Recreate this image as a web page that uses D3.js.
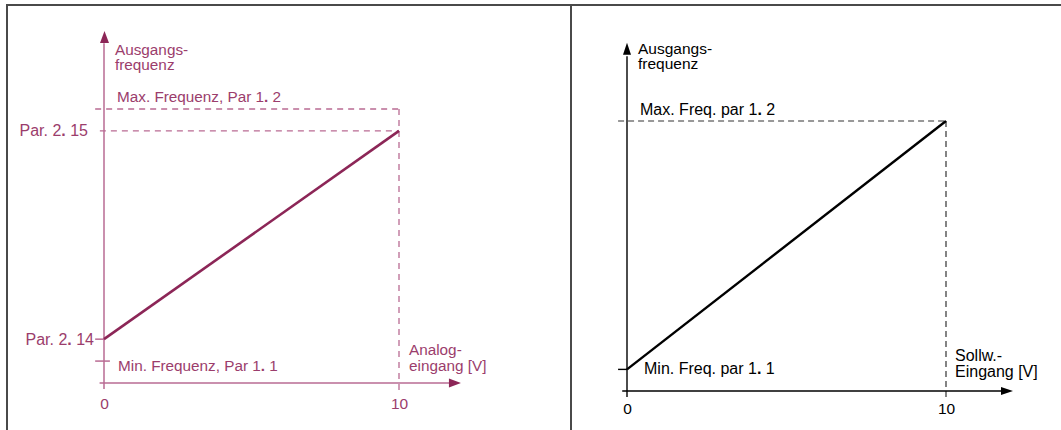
<!DOCTYPE html>
<html>
<head>
<meta charset="utf-8">
<script src="https://cdn.jsdelivr.net/npm/d3@7"></script>
<style>
  html, body { margin: 0; padding: 0; background: #ffffff; }
  svg { display: block; }
  text { font-family: "Liberation Sans", Arial, Helvetica, sans-serif; }
</style>
</head>
<body>
<svg id="chart" width="1061" height="430"></svg>
<script>
// Input voltage range and axis ticks (both panels)
const inputVolts = [0, 10];
const xTickValues = [0, 10];

// Left panel: analog input, output frequency in % of maximum frequency
const analogOutput = [16, 92];        // Par. 2.14 at 0 V, Par. 2.15 at 10 V
const analogLimits = [8, 100];        // Min. Frequenz (Par 1.1), Max. Frequenz (Par 1.2)
const analogParLabels = [["Par. 2", ". ", "14"], ["Par. 2", ". ", "15"]];

// Right panel: setpoint input, output frequency in % of maximum frequency
const setpointOutput = [8, 100];      // Min. Freq. at 0 V, Max. Freq. at 10 V
const setpointLimits = [8, 100];

const svg = d3.select("#chart");

// Frame: top rule, left rule and the divider between the panels
const frame = svg.append("g").attr("stroke", "#4a4a4a").attr("stroke-width", 2);
frame.append("line").attr("x1", 6).attr("x2", 1061).attr("y1", 5).attr("y2", 5);
frame.append("line").attr("x1", 7).attr("x2", 7).attr("y1", 5).attr("y2", 430);
frame.append("line").attr("x1", 571).attr("x2", 571).attr("y1", 5).attr("y2", 430);

// Writes a label whose separating dot is set in bold, e.g. "Par 1. 2"
function richText(g, parts, attrs) {
  const t = g.append("text");
  Object.entries(attrs).forEach(([k, v]) => t.attr(k, v));
  parts.forEach((p, i) => {
    const s = t.append("tspan").text(p);
    if (i === 1) s.attr("font-weight", "bold");
  });
  return t;
}

function arrowUp(g, x, yTip, w, h, color) {
  g.append("path")
    .attr("d", `M${x},${yTip} L${x - w / 2},${yTip + h} L${x + w / 2},${yTip + h} Z`)
    .attr("fill", color);
}
function arrowRight(g, xTip, y, w, h, color) {
  g.append("path")
    .attr("d", `M${xTip},${y} L${xTip - h},${y - w / 2} L${xTip - h},${y + w / 2} Z`)
    .attr("fill", color);
}

// ---------------- Left panel (analog input) ----------------
{
  const axisColor = "#b96b93";
  const lineColor = "#8c2657";
  const textColor = "#9b3d6c";
  const x = d3.scaleLinear().domain(inputVolts).range([104, 399]);
  const y = d3.scaleLinear().domain([0, 100]).range([383, 109]);
  const g = svg.append("g").attr("fill", textColor);

  // guides for max. frequency, Par. 2.15 and the 10 V input
  const dash = g.append("g").attr("stroke", axisColor).attr("stroke-width", 1.3)
    .attr("stroke-dasharray", "6,5").attr("fill", "none");
  dash.append("line").attr("x1", x(-0.3)).attr("x2", x(10))
    .attr("y1", y(analogLimits[1])).attr("y2", y(analogLimits[1]));
  dash.append("line").attr("x1", x(-0.14)).attr("x2", x(10))
    .attr("y1", y(analogOutput[1])).attr("y2", y(analogOutput[1]));
  dash.append("line").attr("x1", x(10)).attr("x2", x(10))
    .attr("y1", y(analogLimits[1])).attr("y2", y(-3.7));

  // axes
  const ax = g.append("g").attr("stroke", axisColor).attr("stroke-width", 1.5);
  ax.append("line").attr("x1", x(0)).attr("x2", x(0)).attr("y1", y(-2.2)).attr("y2", y(124));
  ax.append("line").attr("x1", x(-0.15)).attr("x2", x(11.8)).attr("y1", y(0)).attr("y2", y(0));
  arrowUp(g, x(0) + 0.5, y(128.5), 9, 12, lineColor);
  arrowRight(g, x(12.1), y(0), 9, 12, lineColor);

  // ticks at Par. 2.14 and at min. frequency
  ax.append("line").attr("x1", x(-0.3)).attr("x2", x(0))
    .attr("y1", y(analogOutput[0])).attr("y2", y(analogOutput[0]));
  ax.append("line").attr("x1", x(-0.3)).attr("x2", x(0.2))
    .attr("y1", y(analogLimits[0])).attr("y2", y(analogLimits[0]));

  // characteristic
  g.append("path")
    .datum(inputVolts.map((v, i) => [v, analogOutput[i]]))
    .attr("fill", "none").attr("stroke", lineColor).attr("stroke-width", 2.6)
    .attr("d", d3.line().x(d => x(d[0])).y(d => y(d[1])));

  // x tick labels
  const xa = g.append("g").attr("transform", `translate(0,${y(0)})`)
    .call(d3.axisBottom(x).tickValues(xTickValues).tickSize(0).tickPadding(15).tickFormat(d3.format("d")));
  xa.select(".domain").remove();
  xa.selectAll("text").attr("fill", textColor).attr("font-size", 15.5)
    .attr("font-family", "Liberation Sans, Arial, sans-serif");

  // labels
  const fs = 15.3;
  g.append("text").attr("x", 115).attr("y", 54.5).attr("font-size", fs).text("Ausgangs-");
  g.append("text").attr("x", 115).attr("y", 69.5).attr("font-size", fs).text("frequenz");
  richText(g, ["Max. Frequenz, Par 1", ". ", "2"],
    { x: 117, y: y(analogLimits[1]) - 7, "font-size": fs });
  richText(g, ["Min. Frequenz, Par 1", ". ", "1"],
    { x: 118, y: y(analogLimits[0]) + 9.5, "font-size": fs });
  richText(g, analogParLabels[1],
    { x: 88, y: y(analogOutput[1]) + 5.5, "font-size": 16, "text-anchor": "end" });
  richText(g, analogParLabels[0],
    { x: 94, y: y(analogOutput[0]) + 5.5, "font-size": 16, "text-anchor": "end" });
  g.append("text").attr("x", 409).attr("y", 355).attr("font-size", fs).text("Analog-");
  g.append("text").attr("x", 409).attr("y", 371).attr("font-size", fs).text("eingang [V]");
}

// ---------------- Right panel (setpoint input) ----------------
{
  const color = "#000000";
  const dashColor = "#333333";
  const x = d3.scaleLinear().domain(inputVolts).range([627, 946]);
  const y = d3.scaleLinear().domain([0, 100]).range([391, 121]);
  const g = svg.append("g").attr("fill", color);

  const dash = g.append("g").attr("stroke", dashColor).attr("stroke-width", 1.2)
    .attr("stroke-dasharray", "6,4").attr("fill", "none");
  dash.append("line").attr("x1", x(-0.28)).attr("x2", x(10))
    .attr("y1", y(setpointLimits[1])).attr("y2", y(setpointLimits[1]));
  dash.append("line").attr("x1", x(10)).attr("x2", x(10))
    .attr("y1", y(setpointLimits[1])).attr("y2", y(-3.5));

  const ax = g.append("g").attr("stroke", color).attr("stroke-width", 1.4);
  ax.append("line").attr("x1", x(0)).attr("x2", x(0)).attr("y1", y(-2.2)).attr("y2", y(124));
  ax.append("line").attr("x1", x(-0.15)).attr("x2", x(11.8)).attr("y1", y(0)).attr("y2", y(0));
  arrowUp(g, x(0), y(129), 8, 12, color);
  arrowRight(g, x(12.1), y(0), 8, 12, color);
  ax.append("line").attr("x1", x(-0.28)).attr("x2", x(0))
    .attr("y1", y(setpointLimits[0])).attr("y2", y(setpointLimits[0]));

  g.append("path")
    .datum(inputVolts.map((v, i) => [v, setpointOutput[i]]))
    .attr("fill", "none").attr("stroke", color).attr("stroke-width", 2.4)
    .attr("d", d3.line().x(d => x(d[0])).y(d => y(d[1])));

  const xa = g.append("g").attr("transform", `translate(0,${y(0)})`)
    .call(d3.axisBottom(x).tickValues(xTickValues).tickSize(0).tickPadding(12).tickFormat(d3.format("d")));
  xa.select(".domain").remove();
  xa.selectAll("text").attr("fill", color).attr("font-size", 15.5)
    .attr("font-family", "Liberation Sans, Arial, sans-serif");

  const fs = 16;
  g.append("text").attr("x", 638).attr("y", 54).attr("font-size", 15.5).text("Ausgangs-");
  g.append("text").attr("x", 638).attr("y", 69).attr("font-size", 15.5).text("frequenz");
  richText(g, ["Max. Freq. par 1", ". ", "2"],
    { x: 640, y: y(setpointLimits[1]) - 6, "font-size": fs });
  richText(g, ["Min. Freq. par 1", ". ", "1"],
    { x: 644, y: y(setpointLimits[0]) + 5, "font-size": fs });
  g.append("text").attr("x", 955).attr("y", 361).attr("font-size", fs).text("Sollw.-");
  g.append("text").attr("x", 955).attr("y", 377).attr("font-size", fs).text("Eingang [V]");
}
</script>
</body>
</html>
